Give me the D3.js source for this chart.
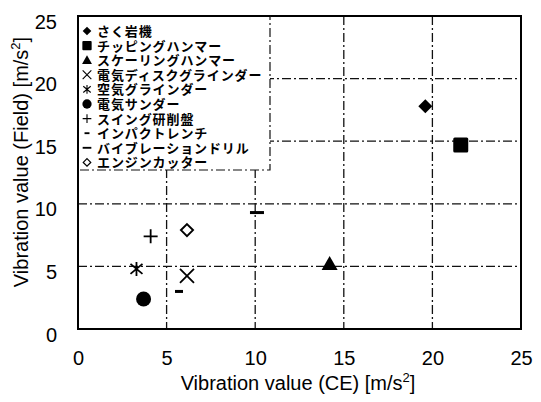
<!DOCTYPE html>
<html><head><meta charset="utf-8">
<script src="https://cdn.jsdelivr.net/npm/d3@7"></script>
<style>body{margin:0;background:#fff}svg{display:block}</style>
</head><body><svg id="c" width="541" height="402"></svg>
<script>
const names = ["さく岩機","チッピングハンマー","スケーリングハンマー","電気ディスクグラインダー","空気グラインダー","電気サンダー","スイング研削盤","インパクトレンチ","バイブレーションドリル","エンジンカッター"];
const symbols = ["diamondFill","square","triangle","cross","asterisk","circle","plus","shortDash","longDash","diamondOpen"];
const xValues = [19.6, 21.6, 14.2, 6.15, 3.3, 3.7, 4.1, 5.7, 10.1, 6.15];
const yValues = [17.8, 14.7, 5.2, 4.25, 4.8, 2.4, 7.4, 3.0, 9.3, 7.9];
const xTicks = [0,5,10,15,20,25];
const yTicks = [0,5,10,15,20,25];

const svg = d3.select("#c");
const L=78,R=521,T=16,B=329;
const x = d3.scaleLinear().domain([0,25]).range([L,R]);
const y = d3.scaleLinear().domain([0,25]).range([B,T]);
const font = "Arial, 'Liberation Sans', sans-serif";

// grid
const g = svg.append("g");
g.selectAll(".gx").data(xTicks.slice(1,-1)).enter().append("line")
 .attr("x1",d=>x(d)).attr("x2",d=>x(d)).attr("y1",T).attr("y2",B)
 .attr("stroke","#111").attr("stroke-width",1.3).attr("stroke-dasharray","9,3,2,3");
g.selectAll(".gy").data(yTicks.slice(1,-1)).enter().append("line")
 .attr("y1",d=>y(d)).attr("y2",d=>y(d)).attr("x1",L).attr("x2",R)
 .attr("stroke","#111").attr("stroke-width",1.3).attr("stroke-dasharray","9,3,2,3");

// frame
svg.append("rect").attr("x",L).attr("y",T).attr("width",R-L).attr("height",B-T)
 .attr("fill","none").attr("stroke","#000").attr("stroke-width",2);

// axes tick labels via d3 axis
const xAxis = svg.append("g").attr("transform",`translate(0,${B})`)
 .call(d3.axisBottom(x).tickValues(xTicks).tickSize(0).tickPadding(22));
xAxis.select(".domain").remove();
xAxis.selectAll("text").attr("font-size",20).attr("font-family",font).attr("fill","#000");
const yAxis = svg.append("g").attr("transform",`translate(${L},0)`)
 .call(d3.axisLeft(y).tickValues(yTicks).tickSize(0).tickPadding(21));
yAxis.select(".domain").remove();
yAxis.selectAll("text").attr("font-size",20).attr("font-family",font).attr("fill","#000").attr("dy","0.6em");

// axis titles
const xt = svg.append("text").attr("x",298).attr("y",390).attr("text-anchor","middle")
 .attr("font-size",20).attr("font-family",font);
xt.append("tspan").text("Vibration value (CE) [m/s");
xt.append("tspan").text("2").attr("font-size",13).attr("dy",-8);
xt.append("tspan").text("]").attr("dy",8);
const yt = svg.append("text").attr("transform","translate(28,162) rotate(-90)").attr("text-anchor","middle")
 .attr("font-size",20).attr("font-family",font);
yt.append("tspan").text("Vibration value (Field) [m/s");
yt.append("tspan").text("2").attr("font-size",13).attr("dy",-8);
yt.append("tspan").text("]").attr("dy",8);

function drawSym(sel, s, cx, cy, k){
  k = k||1;
  const gg = sel.append("g").attr("transform",`translate(${cx},${cy}) scale(${k})`);
  switch(s){
    case "diamondFill": gg.append("path").attr("d","M0,-7L7,0L0,7L-7,0Z").attr("fill","#000"); break;
    case "diamondOpen": gg.append("path").attr("d","M0,-6L6,0L0,6L-6,0Z").attr("fill","#fff").attr("stroke","#000").attr("stroke-width",2); break;
    case "square": gg.append("rect").attr("x",-7.5).attr("y",-7.5).attr("width",15).attr("height",15).attr("rx",1.5).attr("fill","#000"); break;
    case "triangle": gg.append("path").attr("d","M0,-8L8,6L-8,6Z").attr("fill","#000"); break;
    case "circle": gg.append("circle").attr("r",7.5).attr("fill","#000"); break;
    case "cross": gg.append("path").attr("d","M-7,-7L7,7M7,-7L-7,7").attr("stroke","#000").attr("stroke-width",1.8); break;
    case "plus": gg.append("path").attr("d","M-7,0L7,0M0,-7L0,7").attr("stroke","#000").attr("stroke-width",1.8); break;
    case "asterisk": gg.append("path").attr("d","M0,-7L0,7M-6,-5L6,5M6,-5L-6,5").attr("stroke","#000").attr("stroke-width",1.8); break;
    case "shortDash": gg.append("rect").attr("x",-4).attr("y",-1.5).attr("width",8).attr("height",3).attr("fill","#000"); break;
    case "longDash": gg.append("rect").attr("x",-7).attr("y",-1.5).attr("width",14).attr("height",3).attr("fill","#000"); break;
  }
}

// legend
const leg = svg.append("g");
leg.append("rect").attr("x",L).attr("y",T).attr("width",192).attr("height",154)
 .attr("fill","#fff").attr("stroke","#111").attr("stroke-width",1.2).attr("stroke-dasharray","9,3,2,3");
svg.append("line").attr("x1",L).attr("x2",L+192).attr("y1",T).attr("y2",T).attr("stroke","#000").attr("stroke-width",2);
svg.append("line").attr("x1",L).attr("x2",L).attr("y1",T).attr("y2",T+154).attr("stroke","#000").attr("stroke-width",2);
names.forEach((n,i)=>{
  const yy = 31 + i*14.6;
  drawSym(leg, symbols[i], 87, yy, 0.62);
  leg.append("text").attr("x",97).attr("y",yy+5).text(n)
   .attr("font-size",13).attr("letter-spacing",0.9).attr("font-weight","bold").attr("font-family","'Noto Sans CJK JP', sans-serif").attr("fill","#000");
});

// points
const pts = svg.append("g");
names.forEach((n,i)=>drawSym(pts, symbols[i], x(xValues[i]), y(yValues[i]), 1));
</script></body></html>
